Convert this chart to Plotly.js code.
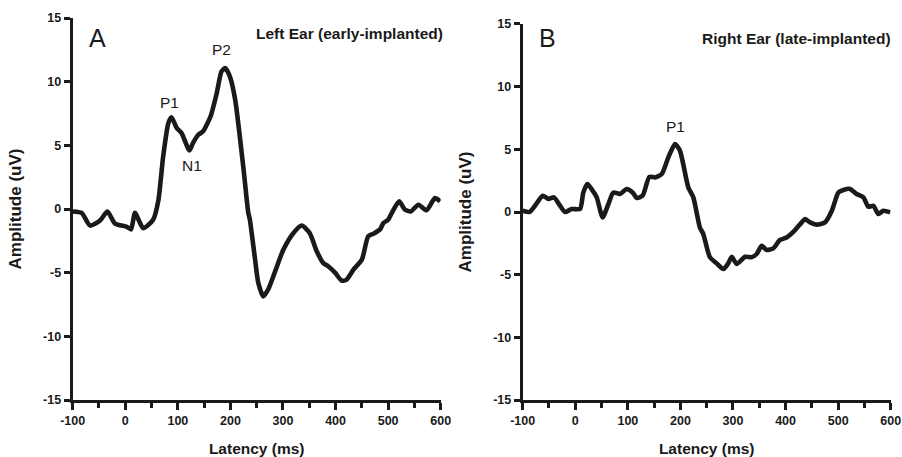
<!DOCTYPE html>
<html>
<head>
<meta charset="utf-8">
<script src="https://cdn.plot.ly/plotly-3.0.1.min.js"></script>
<style>html,body{margin:0;padding:0;background:#fff}#chart{width:902px;height:457px}</style>
</head>
<body>
<div id="chart"></div>
<script>
// Left ear (early-implanted) grand average, panel A
const leftLatency = [-100,-83,-67,-48,-34,-19.5,3,11,18.5,34,53,63,72,82,88,98,107,122,129,139,148,162.5,174,183,190,199,209,224.5,234,237,247,253,262.6,272,285,300.6,319.6,335.6,351,364,376.7,386,399,411.7,421,434,450,462,472,484.6,491,500,507,521,532,543,557.5,573,589,599];
const leftAmplitude = [-0.19,-0.3,-1.3,-0.9,-0.2,-1.15,-1.4,-1.6,-0.3,-1.5,-0.85,0.7,4.1,6.75,7.2,6.35,5.97,4.6,5.2,5.83,6.1,7.3,9.1,10.8,11.07,10.4,8.6,3.3,-0.3,-0.84,-4.0,-5.8,-6.86,-6.3,-4.9,-3.2,-1.9,-1.3,-1.9,-3.3,-4.25,-4.5,-5.0,-5.63,-5.55,-4.76,-3.98,-2.15,-1.94,-1.6,-1.1,-0.84,-0.3,0.6,-0.05,-0.19,0.34,-0.1,0.86,0.6];

// Right ear (late-implanted) grand average, panel B
const rightLatency = [-100,-87,-76.6,-62,-51,-40.5,-29,-19.5,-6.8,9,15.3,23,31,40.8,52,63,72.4,85,98,109,117,128,141,151.7,164.4,177,189.7,199,215,224.5,237,243.5,256,269,281.6,291,297.6,307,323,335.6,345,354.6,364,376.7,389.4,402,418,430.7,437,446.5,459,475,488,500.4,510,522.6,535,548,557.4,567,576.4,586,599];
const rightAmplitude = [0.1,0,0.5,1.3,1.04,1.17,0.5,0,0.24,0.24,1.56,2.23,1.83,1.17,-0.43,0.64,1.56,1.44,1.84,1.56,1.12,1.3,2.8,2.76,3.03,4.36,5.43,4.9,1.96,1.17,-1.23,-1.76,-3.6,-4.1,-4.55,-4.1,-3.57,-4.15,-3.57,-3.6,-3.35,-2.7,-3.03,-2.9,-2.23,-2.03,-1.44,-0.83,-0.56,-0.83,-1.01,-0.83,0.1,1.56,1.76,1.84,1.44,1.17,0.42,0.5,-0.16,0.1,-0.03];

const xTickVals = [-100,0,100,200,300,400,500,600];
const xTickText = ['-100','0','100','200','300','400','500','600'];
const yTickVals = [-15,-10,-5,0,5,10,15];
const yTickText = ['-15','-10','-5','0','5','10','15'];

const panelLetters = ['A','B'];
const panelTitles = ['Left Ear (early-implanted)','Right Ear (late-implanted)'];
const peakLabels = ['P1','N1','P2'];
const xTitle = 'Latency (ms)';
const yTitle = 'Amplitude (uV)';

const FONT = 'Liberation Sans, Arial, sans-serif';
const INK = '#1a1a1a';
const lineStyle = {color:INK, width:4.6, shape:'spline', smoothing:0.6};
const bold = t => '<b>' + t + '</b>';

const traces = [
  {x:leftLatency, y:leftAmplitude, type:'scatter', mode:'lines', line:lineStyle, xaxis:'x', yaxis:'y', hoverinfo:'skip'},
  {x:rightLatency, y:rightAmplitude, type:'scatter', mode:'lines', line:lineStyle, xaxis:'x2', yaxis:'y2', hoverinfo:'skip'}
];

function xAxis(domain, anchor){
  return {domain:domain, anchor:anchor, range:[-100,600], showgrid:false, zeroline:false,
    showline:true, linecolor:INK, linewidth:3,
    tickmode:'array', tickvals:xTickVals, ticktext:xTickText.map(bold),
    ticks:'outside', ticklen:7, tickwidth:3, tickcolor:INK,
    minor:{dtick:50, tick0:-100, ticks:'outside', ticklen:4.5, tickwidth:3, tickcolor:INK, showgrid:false},
    tickfont:{family:FONT, size:12.5, color:INK, weight:'bold'},
    title:{text:bold(xTitle), font:{family:FONT, size:15.5, color:INK}, standoff:17}};
}
function yAxis(domain, anchor){
  return {domain:domain, anchor:anchor, range:[-15,15], showgrid:false, zeroline:false,
    showline:true, linecolor:INK, linewidth:3,
    tickmode:'array', tickvals:yTickVals, ticktext:yTickText.map(bold),
    ticks:'outside', ticklen:6, tickwidth:3, tickcolor:INK,
    tickfont:{family:FONT, size:12.5, color:INK, weight:'bold'},
    title:{text:bold(yTitle), font:{family:FONT, size:17, color:INK}, standoff:18}};
}

const annFont = {family:FONT, size:15.5, color:INK};
const letterFont = {family:FONT, size:25, color:INK};
const panelFont = {family:FONT, size:15.5, color:INK};
const annotations = [
  {xref:'x', yref:'y', x:-72, y:13.45, text:panelLetters[0], showarrow:false, xanchor:'left', yanchor:'middle', font:letterFont},
  {xref:'x', yref:'y', x:600, xshift:4, y:13.8, text:bold(panelTitles[0]), showarrow:false, xanchor:'right', yanchor:'middle', font:panelFont},
  {xref:'x', yref:'y', x:85, y:8.35, text:peakLabels[0], showarrow:false, xanchor:'center', yanchor:'middle', font:annFont},
  {xref:'x', yref:'y', x:127, y:3.4, text:peakLabels[1], showarrow:false, xanchor:'center', yanchor:'middle', font:annFont},
  {xref:'x', yref:'y', x:183, y:12.5, text:peakLabels[2], showarrow:false, xanchor:'center', yanchor:'middle', font:annFont},
  {xref:'x2', yref:'y2', x:-72, y:13.85, text:panelLetters[1], showarrow:false, xanchor:'left', yanchor:'middle', font:letterFont},
  {xref:'x2', yref:'y2', x:600, xshift:2, y:13.85, text:bold(panelTitles[1]), showarrow:false, xanchor:'right', yanchor:'middle', font:panelFont},
  {xref:'x2', yref:'y2', x:190, y:6.85, text:peakLabels[0], showarrow:false, xanchor:'center', yanchor:'middle', font:annFont}
];

const layout = {
  width:902, height:457,
  margin:{l:0, r:0, t:0, b:0},
  paper_bgcolor:'#ffffff', plot_bgcolor:'#ffffff',
  showlegend:false,
  font:{family:FONT, color:INK},
  xaxis: xAxis([0.0806,0.4886],'y'),
  yaxis: yAxis([0.1247,0.9606],'x'),
  xaxis2: xAxis([0.5795,0.9875],'y2'),
  yaxis2: yAxis([0.1247,0.9475],'x2'),
  annotations: annotations
};

Plotly.newPlot('chart', traces, layout, {displayModeBar:false, staticPlot:true});
</script>
</body>
</html>
